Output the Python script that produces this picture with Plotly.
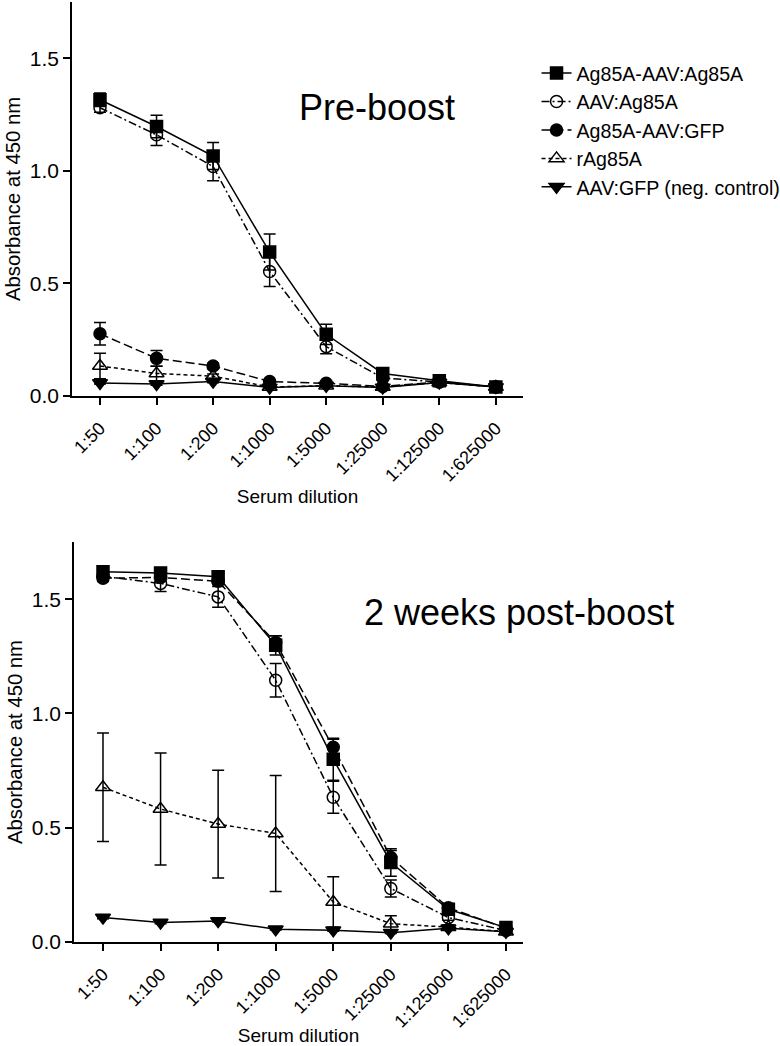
import plotly.graph_objects as go

categories = ["1:50", "1:100", "1:200", "1:1000", "1:5000", "1:25000", "1:125000", "1:625000"]
series_names = ["Ag85A-AAV:Ag85A", "AAV:Ag85A", "Ag85A-AAV:GFP", "rAg85A", "AAV:GFP (neg. control)"]

# Pre-boost
sq_pre = [1.316, 1.197, 1.066, 0.639, 0.274, 0.100, 0.068, 0.040]
sq_pre_err = [0.03, 0.05, 0.06, 0.08, 0.045, 0.01, 0.008, 0.005]
oc_pre = [1.280, 1.160, 1.019, 0.553, 0.219, 0.080, 0.062, 0.040]
oc_pre_err = [0.02, 0.048, 0.063, 0.067, 0.032, 0.01, 0.008, 0.005]
fc_pre = [0.276, 0.167, 0.133, 0.064, 0.056, 0.042, 0.062, 0.040]
fc_pre_err = [0.05, 0.035, 0.012, 0.008, 0.008, 0.005, 0.005, 0.004]
tr_pre = [0.133, 0.100, 0.088, 0.040, 0.045, 0.040, 0.060, 0.040]
tr_pre_err = [0.057, 0.032, 0.01, 0.008, 0.005, 0.005, 0.005, 0.004]
neg_pre = [0.058, 0.053, 0.064, 0.038, 0.045, 0.038, 0.060, 0.040]
neg_pre_err = [0.005, 0.005, 0.005, 0.004, 0.004, 0.004, 0.004, 0.004]

# 2 weeks post-boost
sq_post = [1.620, 1.615, 1.598, 1.298, 0.800, 0.348, 0.143, 0.063]
sq_post_err = [0.015, 0.015, 0.015, 0.042, 0.092, 0.06, 0.012, 0.01]
oc_post = [1.600, 1.569, 1.510, 1.145, 0.633, 0.234, 0.107, 0.050]
oc_post_err = [0.015, 0.035, 0.045, 0.073, 0.07, 0.037, 0.012, 0.008]
fc_post = [1.592, 1.595, 1.578, 1.310, 0.852, 0.370, 0.150, 0.060]
fc_post_err = [0.015, 0.015, 0.015, 0.03, 0.035, 0.03, 0.01, 0.008]
tr_post = [0.677, 0.582, 0.516, 0.475, 0.175, 0.080, 0.065, 0.045]
tr_post_err = [0.237, 0.245, 0.236, 0.254, 0.11, 0.035, 0.01, 0.008]
neg_post = [0.107, 0.085, 0.092, 0.056, 0.051, 0.041, 0.060, 0.045]
neg_post_err = [0.005, 0.005, 0.005, 0.004, 0.004, 0.004, 0.004, 0.004]

FONT = "Arial, Liberation Sans, sans-serif"

styles = [
    dict(symbol="square", dash="solid", size=12, lw=1.5),
    dict(symbol="circle-open", dash="8px,3px,2px,3px", size=12, lw=1.5),
    dict(symbol="circle", dash="9px,4px", size=12, lw=1.5),
    dict(symbol="triangle-up-open", dash="4px,3px", size=13, lw=1.5),
    dict(symbol="triangle-down", dash="solid", size=13, lw=1.5),
]

pre = [(sq_pre, sq_pre_err), (oc_pre, oc_pre_err), (fc_pre, fc_pre_err), (tr_pre, tr_pre_err), (neg_pre, neg_pre_err)]
post = [(sq_post, sq_post_err), (oc_post, oc_post_err), (fc_post, fc_post_err), (tr_post, tr_post_err), (neg_post, neg_post_err)]

fig = go.Figure()
draw_order = [4, 3, 2, 1, 0]
for panel, (data, xa, ya) in enumerate([(pre, "x", "y"), (post, "x2", "y2")]):
    for i in draw_order:
        vals, errs = data[i]
        st = styles[i]
        fig.add_trace(go.Scatter(
            x=categories, y=vals, xaxis=xa, yaxis=ya,
            name=series_names[i], legendgroup=series_names[i], legendrank=i + 1,
            showlegend=(panel == 0),
            mode="lines+markers",
            line=dict(color="black", width=st["lw"], dash=st["dash"]),
            marker=dict(symbol=st["symbol"], size=st["size"], color="black",
                        line=dict(color="black", width=1.5)),
            error_y=dict(type="data", array=errs, visible=True, color="black", thickness=1.5, width=6),
        ))

axis_common = dict(showline=True, linecolor="black", linewidth=1.5, ticks="outside",
                   tickcolor="black", tickwidth=1.5, ticklen=7, showgrid=False, zeroline=False,
                   mirror=False, automargin=False)

fig.update_layout(
    width=780, height=1046,
    margin=dict(l=72, r=257, t=2, b=104, autoexpand=False),
    plot_bgcolor="white", paper_bgcolor="white",
    font=dict(family=FONT, color="black"),
    showlegend=True,
    legend=dict(x=1.03, y=0.945, xanchor="left", yanchor="top", font=dict(size=19.6, family=FONT),
                tracegroupgap=0, bgcolor="rgba(0,0,0,0)", itemwidth=30),
    xaxis=dict(domain=[0, 1], anchor="y", type="category", categoryorder="array", categoryarray=categories,
               range=[-0.495, 7.48], tickangle=-45, tickfont=dict(size=18), ticklabelstandoff=6,
               title=dict(text="Serum dilution", font=dict(size=19), standoff=5), **axis_common),
    yaxis=dict(domain=[0.5809, 1], anchor="x", range=[0, 1.75], tickvals=[0, 0.5, 1.0, 1.5],
               tickformat=".1f", tickfont=dict(size=21),
               title=dict(text="Absorbance at 450 nm", font=dict(size=20.3), standoff=4), **axis_common),
    xaxis2=dict(domain=[0.0044, 1], anchor="y2", type="category", categoryorder="array", categoryarray=categories,
                range=[-0.504, 7.296], tickangle=-45, tickfont=dict(size=18), ticklabelstandoff=6,
                title=dict(text="Serum dilution", font=dict(size=19), standoff=8), **axis_common),
    yaxis2=dict(domain=[0, 0.4255], anchor="x2", range=[0, 1.75], tickvals=[0, 0.5, 1.0, 1.5],
                tickformat=".1f", tickfont=dict(size=21),
                title=dict(text="Absorbance at 450 nm", font=dict(size=20.3), standoff=4), **axis_common),
    annotations=[
        dict(text="Pre-boost", xref="x domain", yref="y domain", x=0.676, y=0.731,
             xanchor="center", yanchor="middle", showarrow=False, font=dict(size=36, family=FONT)),
        dict(text="2 weeks post-boost", xref="x2 domain", yref="y2 domain", x=0.99, y=0.825,
             xanchor="center", yanchor="middle", showarrow=False, font=dict(size=36, family=FONT)),
    ],
)

fig.write_html("out.html", config={"displayModeBar": False},
               post_script="document.body.style.margin='0px';document.body.style.overflow='hidden';")
